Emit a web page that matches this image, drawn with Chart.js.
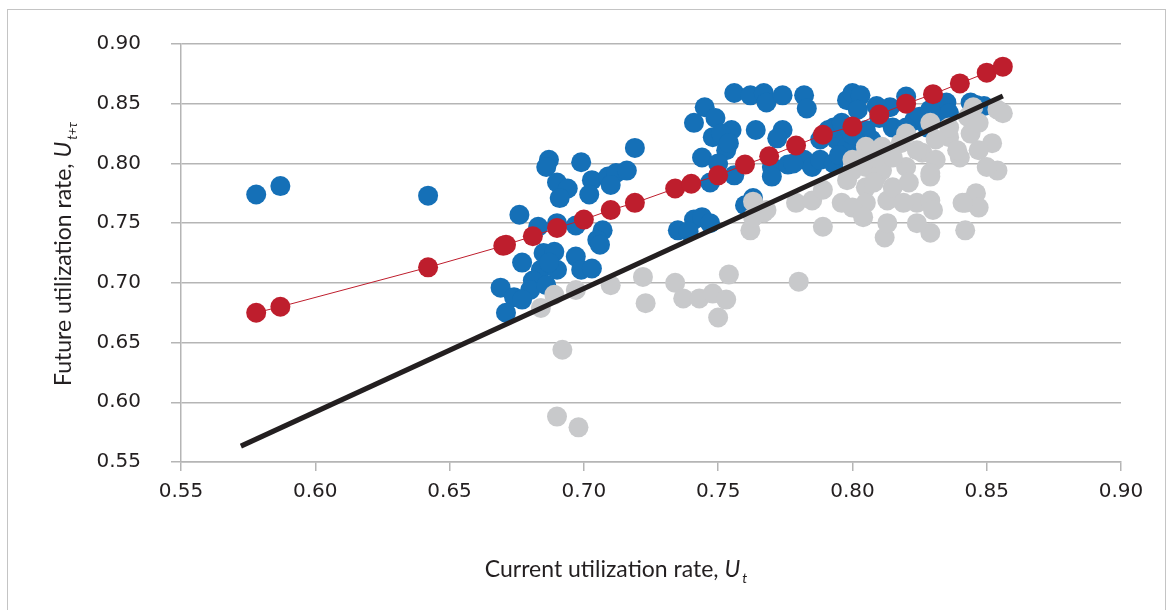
<!DOCTYPE html>
<html>
<head>
<meta charset="utf-8">
<script src="https://cdn.jsdelivr.net/npm/chart.js@4.4.1/dist/chart.umd.min.js"></script>
<style>
  html, body { margin: 0; padding: 0; background: #fff; }
  #wrap { width: 1173px; height: 610px; position: relative; }
</style>
</head>
<body>
<div id="wrap"><canvas id="chart" width="1173" height="610"></canvas></div>
<script>
// Utilization rate scatter: current (x) vs future (y)

// blue points
const blueX = [0.578, 0.587, 0.642,
  0.719, 0.687, 0.686, 0.699, 0.690, 0.694, 0.691, 0.703, 0.702, 0.709, 0.712, 0.716, 0.710,
  0.676, 0.683, 0.690, 0.697, 0.707, 0.705,
  0.677, 0.685, 0.689, 0.684, 0.690, 0.681, 0.697, 0.699, 0.703,
  0.669, 0.674, 0.680, 0.677, 0.671, 0.686, 0.687, 0.706,
  0.756, 0.762, 0.767, 0.768, 0.774, 0.782, 0.783,
  0.745, 0.749, 0.741, 0.755, 0.748, 0.753, 0.751, 0.764, 0.774, 0.772,
  0.744, 0.750, 0.747, 0.770, 0.770, 0.776, 0.782, 0.785, 0.778,
  0.760, 0.763, 0.735, 0.741, 0.744, 0.747, 0.739, 0.756,
  0.754, 0.788, 0.793, 0.798,
  0.794, 0.798, 0.800, 0.793, 0.798, 0.791, 0.803, 0.796, 0.805, 0.807,
  0.820, 0.814, 0.815, 0.823, 0.825, 0.831, 0.835, 0.836, 0.844, 0.828,
  0.820, 0.849, 0.846, 0.829, 0.802, 0.809, 0.810, 0.800, 0.788, 0.803, 0.795];
const blueY = [0.774, 0.781, 0.773,
  0.813, 0.803, 0.797, 0.801, 0.784, 0.779, 0.771, 0.786, 0.774, 0.789, 0.792, 0.794, 0.782,
  0.757, 0.747, 0.750, 0.748, 0.744, 0.736,
  0.717, 0.725, 0.726, 0.711, 0.711, 0.702, 0.722, 0.711, 0.712,
  0.696, 0.688, 0.694, 0.686, 0.675, 0.698, 0.717, 0.732,
  0.859, 0.857, 0.859, 0.851, 0.857, 0.857, 0.846,
  0.847, 0.838, 0.834, 0.828, 0.822, 0.811, 0.825, 0.828, 0.828, 0.821,
  0.805, 0.800, 0.784, 0.797, 0.789, 0.799, 0.803, 0.797, 0.800,
  0.765, 0.771, 0.744, 0.753, 0.755, 0.750, 0.743, 0.790,
  0.817, 0.803, 0.800, 0.809,
  0.820, 0.853, 0.859, 0.830, 0.814, 0.828, 0.857, 0.834, 0.828, 0.820,
  0.856, 0.847, 0.830, 0.836, 0.839, 0.842, 0.851, 0.842, 0.851, 0.830,
  0.830, 0.848, 0.849, 0.845, 0.845, 0.848, 0.838, 0.824, 0.820, 0.807, 0.807];

// gray points
const grayX = [0.684, 0.689, 0.697, 0.710, 0.722, 0.723, 0.734, 0.737, 0.743, 0.748,
  0.753, 0.754, 0.750, 0.692, 0.690, 0.698, 0.780, 0.762, 0.763, 0.767,
  0.763, 0.768, 0.779, 0.785, 0.789, 0.789, 0.796, 0.798, 0.800, 0.805,
  0.805, 0.809, 0.811, 0.813, 0.812, 0.815, 0.820, 0.821, 0.824, 0.829,
  0.829, 0.829, 0.826, 0.831, 0.840, 0.842, 0.842, 0.846, 0.847, 0.836,
  0.843, 0.845, 0.854, 0.856, 0.854, 0.850, 0.852, 0.847, 0.836, 0.831,
  0.818, 0.820, 0.811, 0.805, 0.800, 0.809, 0.829, 0.829, 0.830, 0.824,
  0.819, 0.813, 0.805, 0.808, 0.815, 0.824, 0.839, 0.844, 0.847,
  0.841, 0.803, 0.800, 0.804];
const grayY = [0.679, 0.690, 0.694, 0.698, 0.705, 0.683, 0.700, 0.687, 0.687, 0.691,
  0.686, 0.707, 0.671, 0.644, 0.588, 0.579, 0.701, 0.744, 0.755, 0.759,
  0.768, 0.761, 0.767, 0.769, 0.778, 0.747, 0.767, 0.786, 0.794, 0.797,
  0.780, 0.789, 0.794, 0.769, 0.738, 0.780, 0.797, 0.784, 0.767, 0.769,
  0.742, 0.789, 0.809, 0.803, 0.805, 0.744, 0.767, 0.775, 0.763, 0.822,
  0.839, 0.847, 0.845, 0.842, 0.794, 0.797, 0.817, 0.811, 0.830, 0.820,
  0.817, 0.825, 0.814, 0.814, 0.803, 0.805, 0.834, 0.792, 0.761, 0.750,
  0.767, 0.750, 0.767, 0.784, 0.805, 0.811, 0.811, 0.825, 0.834,
  0.767, 0.803, 0.763, 0.755];

// red binned points joined by a thin line
const redX = [0.578, 0.587, 0.642, 0.670, 0.671, 0.681, 0.690, 0.700, 0.710, 0.719,
  0.734, 0.740, 0.750, 0.760, 0.769, 0.779, 0.789, 0.800, 0.810, 0.820,
  0.830, 0.840, 0.850, 0.856];
const redY = [0.675, 0.680, 0.713, 0.731, 0.732, 0.739, 0.746, 0.753, 0.761, 0.767,
  0.779, 0.783, 0.790, 0.799, 0.806, 0.815, 0.824, 0.831, 0.841, 0.850,
  0.858, 0.867, 0.876, 0.881];

// black reference line
const lineX = [0.5723, 0.856];
const lineY = [0.5633, 0.8565];

const yTicks = [0.55, 0.60, 0.65, 0.70, 0.75, 0.80, 0.85, 0.90];

function pts(xs, ys) {
    return xs.map((x, i) => ({ x: x, y: ys[i] }));
}

const gridColor = "#b5b5b5";
const titleFont = "Lato, 'Open Sans', sans-serif";

// draws frame and both axis titles (with italic U and subscripts)
const decorPlugin = {
    id: "decor",
    beforeDraw(chart) {
        const ctx = chart.ctx;
        ctx.save();
        ctx.strokeStyle = "#c4c4c4";
        ctx.lineWidth = 1;
        ctx.strokeRect(7.5, 9.5, 1158, 610);
        ctx.restore();
    },
    afterDraw(chart) {
        const ctx = chart.ctx;
        function drawRich(pieces, cx, cy) {
            let total = 0;
            pieces.forEach(p => { ctx.font = p.f; p.w = ctx.measureText(p.t).width; total += p.w + (p.gap || 0); });
            let x = cx - total / 2;
            pieces.forEach(p => {
                ctx.font = p.f;
                ctx.fillText(p.t, x, cy + p.dy);
                x += p.w + (p.gap || 0);
            });
        }
        ctx.save();
        ctx.fillStyle = "#231f20";
        ctx.textBaseline = "alphabetic";
        ctx.textAlign = "left";
        drawRich([
            { t: "Current utilization rate, ", f: "23px " + titleFont, dy: 0 },
            { t: "U", f: "italic 23px " + titleFont, dy: 0, gap: 2 },
            { t: "t", f: "italic 14px " + titleFont, dy: 6 }
        ], 616, 577);
        ctx.translate(71, 254);
        ctx.rotate(-Math.PI / 2);
        drawRich([
            { t: "Future utilization rate, ", f: "23px " + titleFont, dy: 0 },
            { t: "U", f: "italic 23px " + titleFont, dy: 0, gap: 2 },
            { t: "t+\u03c4", f: "italic 13px " + titleFont, dy: 6 }
        ], 0, 0);
        ctx.restore();
    }
};

new Chart(document.getElementById("chart").getContext("2d"), {
    type: "scatter",
    data: {
        datasets: [
            {
                label: "binned",
                data: pts(redX, redY),
                showLine: true,
                borderColor: "#be1e2d",
                borderWidth: 1,
                pointRadius: 10,
                pointBackgroundColor: "#be1e2d",
                pointBorderWidth: 0,
                order: 0,
            },
            {
                label: "line",
                data: pts(lineX, lineY),
                showLine: true,
                borderColor: "#231f20",
                borderWidth: 5,
                pointRadius: 0,
                order: 1,
            },
            {
                label: "gray",
                data: pts(grayX, grayY),
                pointRadius: 10,
                pointBackgroundColor: "#c8c9cb",
                pointBorderWidth: 0,
                order: 2,
            },
            {
                label: "blue",
                data: pts(blueX, blueY),
                pointRadius: 10,
                pointBackgroundColor: "#1570b7",
                pointBorderWidth: 0,
                order: 3,
            },
        ],
    },
    options: {
        responsive: false,
        animation: false,
        layout: { padding: { left: 0, right: 52, top: 44, bottom: 0 } },
        plugins: { legend: { display: false }, tooltip: { enabled: false } },
        scales: {
            x: {
                type: "linear",
                min: 0.55,
                max: 0.90,
                afterFit(scale) { scale.height = 148; },
                ticks: {
                    stepSize: 0.05,
                    color: "#231f20",
                    font: { family: "'DejaVu Sans'", size: 20 },
                    padding: 9,
                    maxRotation: 0,
                    callback: v => v.toFixed(2),
                },
                grid: { drawOnChartArea: false, color: gridColor, tickLength: 9, lineWidth: 1.5 },
                border: { display: true, color: gridColor, width: 1.5 },
            },
            y: {
                type: "linear",
                min: 0.55,
                max: 0.90,
                afterFit(scale) { scale.width = 181; },
                afterBuildTicks(scale) { scale.ticks = yTicks.map(v => ({ value: v })); },
                ticks: {
                    color: "#231f20",
                    font: { family: "'DejaVu Sans'", size: 20 },
                    padding: 30,
                    callback: v => v.toFixed(2),
                },
                grid: { color: gridColor, tickLength: 10, lineWidth: 1.5 },
                border: { display: true, color: gridColor, width: 1.5 },
            },
        },
    },
    plugins: [decorPlugin],
});
</script>
</body>
</html>
